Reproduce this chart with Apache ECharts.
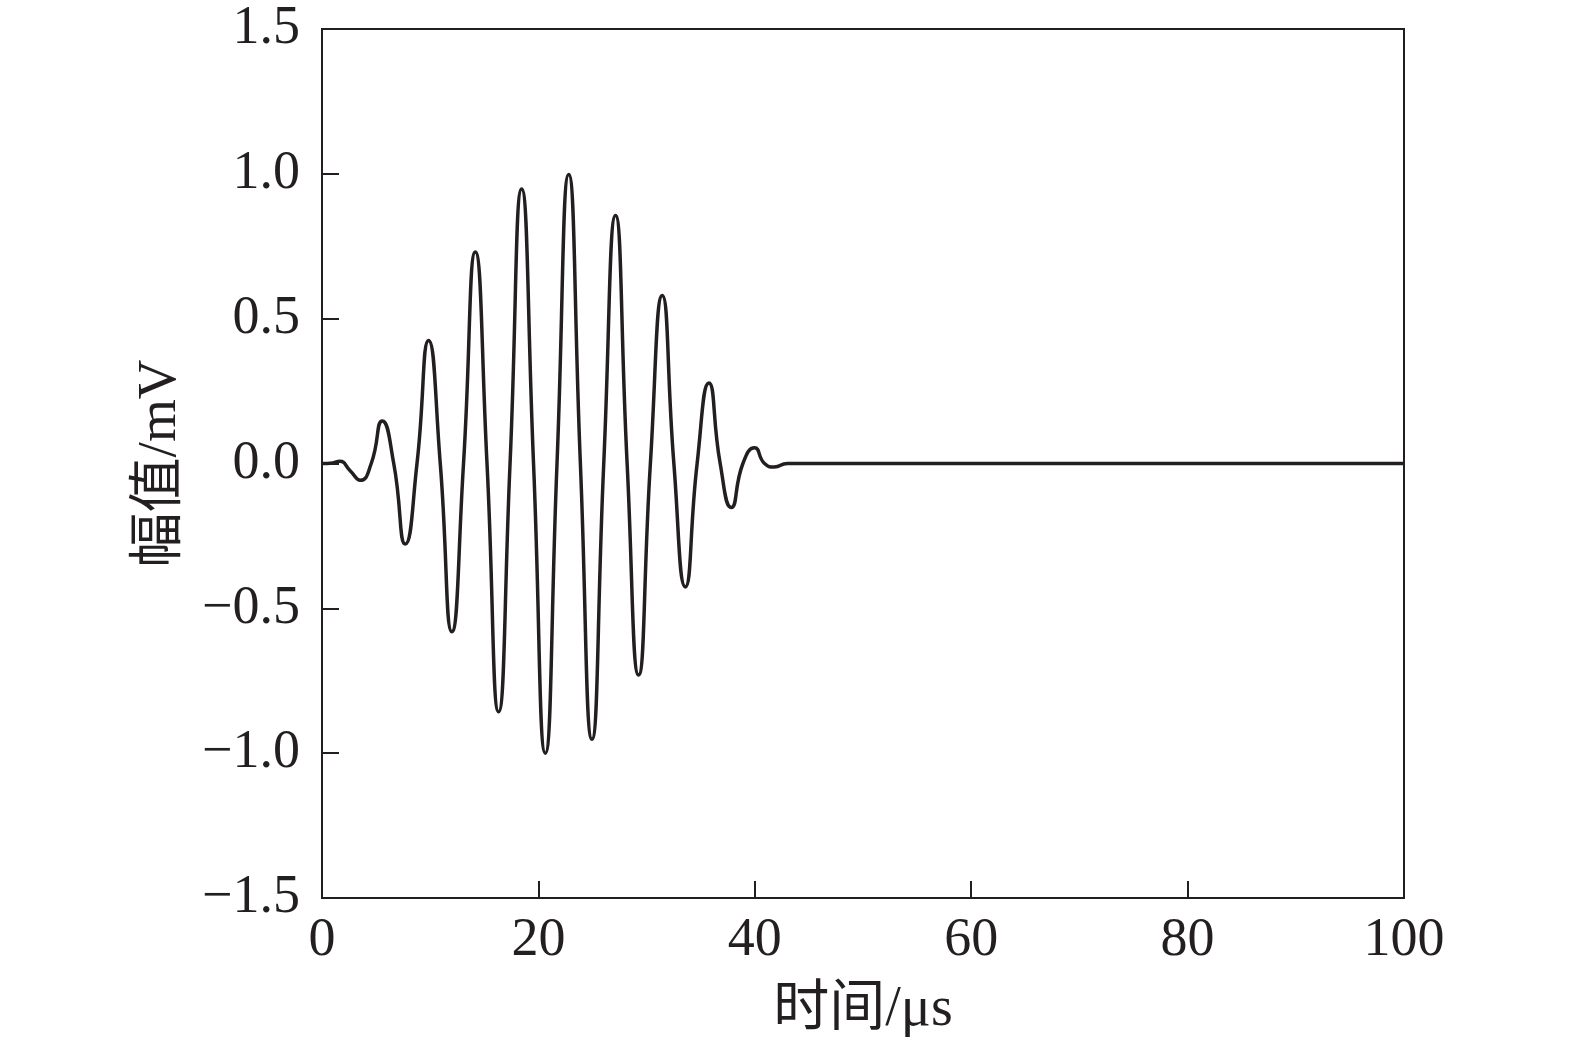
<!DOCTYPE html>
<html>
<head>
<meta charset="utf-8">
<script src="https://cdn.jsdelivr.net/npm/echarts@6/dist/echarts.min.js"></script>
<style>
html,body{margin:0;padding:0;background:#fff;}
#chart{width:1575px;height:1045px;}
</style>
</head>
<body>
<div id="chart"></div>
<script>
// Time (μs) and amplitude (mV)
var timeUs = [0, 1.0, 1.63, 2.6, 3.54, 4.55, 5.57, 6.63, 7.7, 8.78, 9.85, 10.93, 12.0, 13.08, 14.17, 15.25, 16.32, 17.38, 18.45, 19.55, 20.64, 21.72, 22.8, 23.88, 24.95, 26.04, 27.13, 28.2, 29.26, 30.35, 31.45, 32.52, 33.58, 34.67, 35.76, 36.8, 37.83, 38.9, 39.98, 40.9, 41.8, 43.0, 100];
var amplitudeMv = [0, 0.002, 0.008, -0.025, -0.058, 0, 0.147, 0, -0.278, 0, 0.425, 0, -0.581, 0, 0.73, 0, -0.857, 0, 0.948, 0, -1.0, 0, 0.998, 0, -0.952, 0, 0.856, 0, -0.73, 0, 0.58, 0, -0.426, 0, 0.278, 0, -0.152, 0, 0.054, 0, -0.012, 0, 0];
var xTicks = [0, 20, 40, 60, 80, 100];
var yTicks = [-1.5, -1.0, -0.5, 0.0, 0.5, 1.0, 1.5];
var xAxisName = '时间/μs';
var yAxisName = '幅值/mV';

var points = timeUs.map(function (t, i) { return [t, amplitudeMv[i]]; });
var FONT = '"Liberation Serif", "Noto Sans CJK SC", serif';
var INK = '#231f20';

var chart = echarts.init(document.getElementById('chart'), null, {renderer: 'canvas'});
chart.setOption({
  backgroundColor: '#ffffff',
  animation: false,
  grid: {left: 322, right: 171, top: 29, bottom: 147, show: true, borderColor: INK, borderWidth: 2, backgroundColor: 'transparent'},
  xAxis: {
    type: 'value',
    min: xTicks[0], max: xTicks[xTicks.length - 1], interval: 20,
    name: xAxisName, nameLocation: 'middle', nameGap: 84,
    nameTextStyle: {fontFamily: FONT, fontSize: 56, color: INK},
    axisLine: {show: true, onZero: false, lineStyle: {color: INK, width: 2}},
    axisTick: {show: true, inside: true, length: 17, lineStyle: {color: INK, width: 2}},
    axisLabel: {fontFamily: FONT, fontSize: 54, color: INK, margin: 16,
      formatter: function (v) { return xTicks.indexOf(v) >= 0 ? String(v) : ''; }},
    splitLine: {show: false}
  },
  yAxis: {
    type: 'value',
    min: yTicks[0], max: yTicks[yTicks.length - 1], interval: 0.5,
    name: yAxisName, nameLocation: 'middle', nameGap: 134, nameRotate: 90,
    nameTextStyle: {fontFamily: FONT, fontSize: 55, color: INK},
    axisLine: {show: true, onZero: false, lineStyle: {color: INK, width: 2}},
    axisTick: {show: true, inside: true, length: 17, lineStyle: {color: INK, width: 2}},
    axisLabel: {fontFamily: FONT, fontSize: 54, color: INK, margin: 22,
      formatter: function (v) { return v.toFixed(1).replace('-', '\u2212'); }},
    splitLine: {show: false}
  },
  series: [{
    type: 'line',
    data: points,
    smooth: 0.55,
    showSymbol: false,
    lineStyle: {color: INK, width: 3.5},
    itemStyle: {color: INK}
  }]
});
</script>
</body>
</html>
